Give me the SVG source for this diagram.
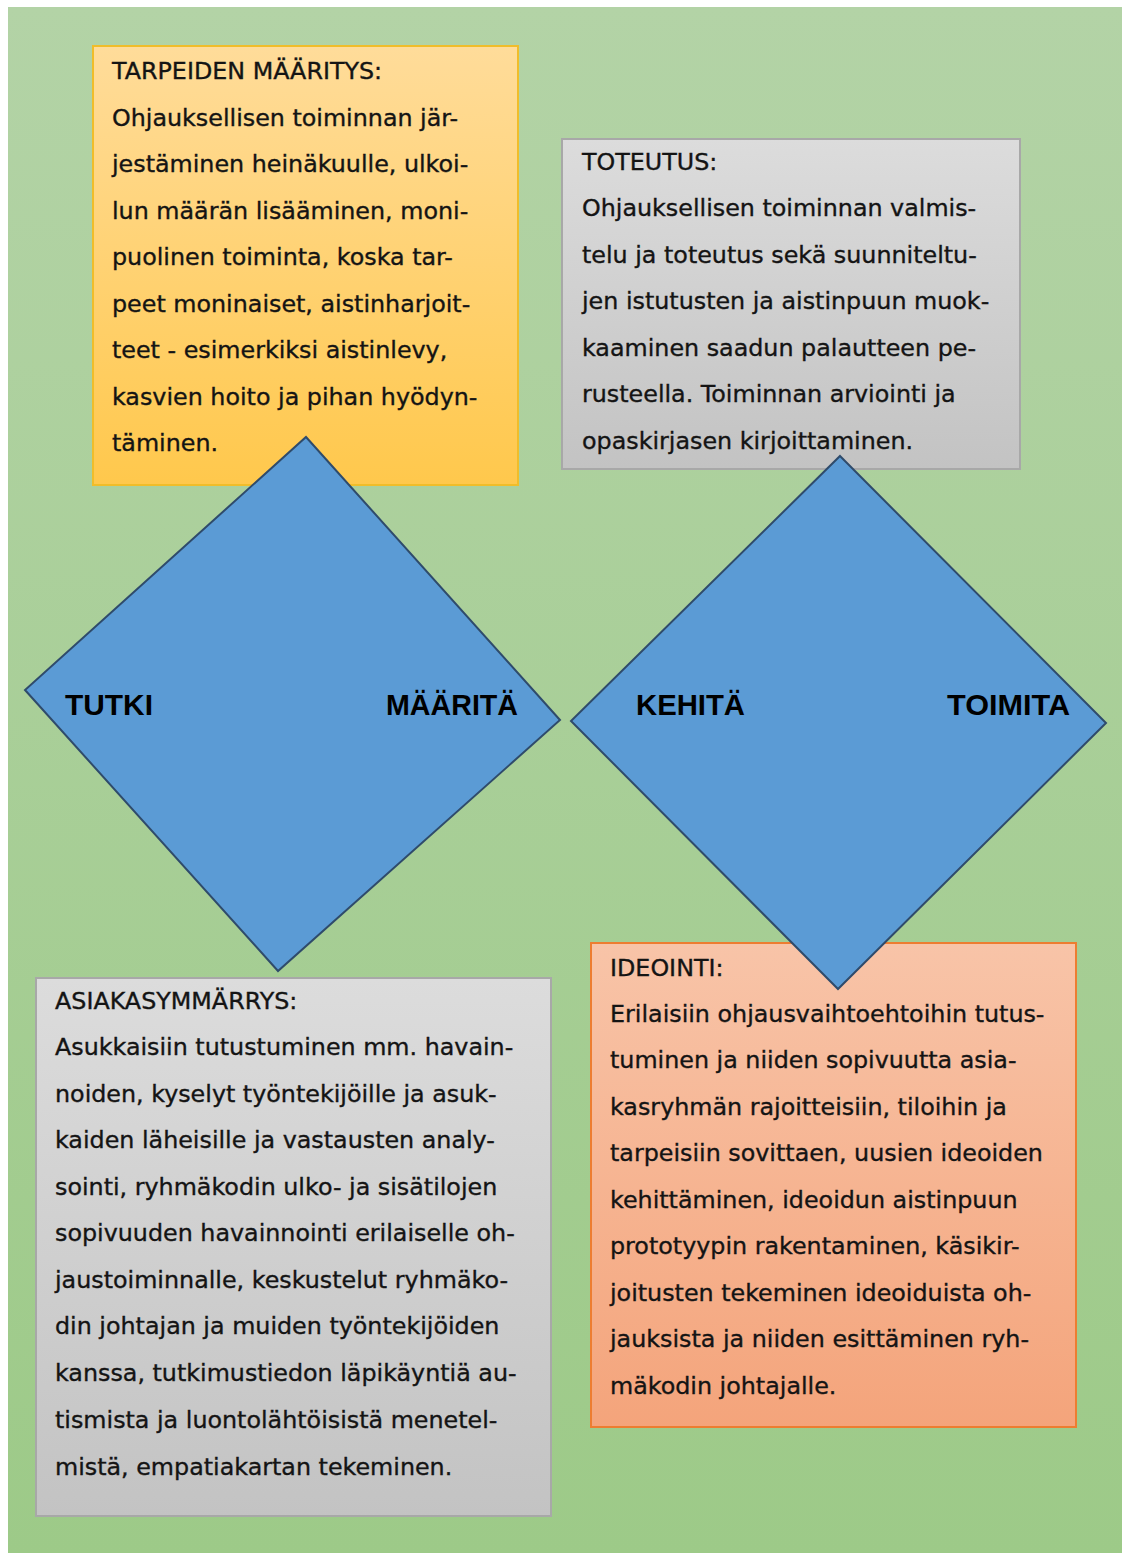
<svg xmlns="http://www.w3.org/2000/svg" width="1122" height="1555" viewBox="0 0 1122 1555">
<defs>
<linearGradient id="gBg" x1="0" y1="0" x2="0" y2="1"><stop offset="0" stop-color="#b3d3a6"/><stop offset="1" stop-color="#9dca88"/></linearGradient>
<linearGradient id="gOr" x1="0" y1="0" x2="0" y2="1"><stop offset="0" stop-color="#ffdc9a"/><stop offset="1" stop-color="#ffc84c"/></linearGradient>
<linearGradient id="gGr" x1="0" y1="0" x2="0" y2="1"><stop offset="0" stop-color="#dcdcdc"/><stop offset="1" stop-color="#c3c3c3"/></linearGradient>
<linearGradient id="gSa" x1="0" y1="0" x2="0" y2="1"><stop offset="0" stop-color="#f8c4a8"/><stop offset="1" stop-color="#f4a47b"/></linearGradient>
<style>
.body{font-family:"DejaVu Sans","Liberation Sans",sans-serif;font-size:23.8px;fill:#141414;stroke:#141414;stroke-width:0.35}
.big{font-family:"Liberation Sans",Arial,sans-serif;font-size:30px;font-weight:bold;fill:#000}
.dia{fill:#5b9bd5;stroke:#2f4b6b;stroke-width:2;stroke-linejoin:miter}
.bOr{fill:url(#gOr);stroke:#f0bd2a;stroke-width:2}
.bGr{fill:url(#gGr);stroke:#a8a8a8;stroke-width:2}
.bSa{fill:url(#gSa);stroke:#ed7d31;stroke-width:2}
</style>
</defs>
<rect x="0" y="0" width="1122" height="1555" fill="#ffffff"/>
<rect x="8" y="7" width="1114" height="1546" fill="url(#gBg)"/>

<g id="box-tarpeiden">
<rect class="bOr" x="93" y="46" width="425" height="439"/>
<text class="body" x="112" y="79">TARPEIDEN MÄÄRITYS:</text>
<text class="body" x="112" y="126">Ohjauksellisen toiminnan jär-</text>
<text class="body" x="112" y="172">jestäminen heinäkuulle, ulkoi-</text>
<text class="body" x="112" y="219">lun määrän lisääminen, moni-</text>
<text class="body" x="112" y="265">puolinen toiminta, koska tar-</text>
<text class="body" x="112" y="312">peet moninaiset, aistinharjoit-</text>
<text class="body" x="112" y="358">teet - esimerkiksi aistinlevy,</text>
<text class="body" x="112" y="405">kasvien hoito ja pihan hyödyn-</text>
<text class="body" x="112" y="451">täminen.</text>
</g>

<g id="box-toteutus">
<rect class="bGr" x="562" y="139" width="458" height="330"/>
<text class="body" x="582" y="170">TOTEUTUS:</text>
<text class="body" x="582" y="216">Ohjauksellisen toiminnan valmis-</text>
<text class="body" x="582" y="263">telu ja toteutus sekä suunniteltu-</text>
<text class="body" x="582" y="309">jen istutusten ja aistinpuun muok-</text>
<text class="body" x="582" y="356">kaaminen saadun palautteen pe-</text>
<text class="body" x="582" y="402">rusteella. Toiminnan arviointi ja</text>
<text class="body" x="582" y="449">opaskirjasen kirjoittaminen.</text>
</g>

<g id="box-asiakasymmarrys">
<rect class="bGr" x="36" y="978" width="515" height="538"/>
<text class="body" x="55" y="1009">ASIAKASYMMÄRRYS:</text>
<text class="body" x="55" y="1055">Asukkaisiin tutustuminen mm. havain-</text>
<text class="body" x="55" y="1102">noiden, kyselyt työntekijöille ja asuk-</text>
<text class="body" x="55" y="1148">kaiden läheisille ja vastausten analy-</text>
<text class="body" x="55" y="1195">sointi, ryhmäkodin ulko- ja sisätilojen</text>
<text class="body" x="55" y="1241">sopivuuden havainnointi erilaiselle oh-</text>
<text class="body" x="55" y="1288">jaustoiminnalle, keskustelut ryhmäko-</text>
<text class="body" x="55" y="1334">din johtajan ja muiden työntekijöiden</text>
<text class="body" x="55" y="1381">kanssa, tutkimustiedon läpikäyntiä au-</text>
<text class="body" x="55" y="1428">tismista ja luontolähtöisistä menetel-</text>
<text class="body" x="55" y="1475">mistä, empatiakartan tekeminen.</text>
</g>

<g id="box-ideointi">
<rect class="bSa" x="591" y="943" width="485" height="484"/>
<text class="body" x="610" y="976">IDEOINTI:</text>
<text class="body" x="610" y="1022">Erilaisiin ohjausvaihtoehtoihin tutus-</text>
<text class="body" x="610" y="1068">tuminen ja niiden sopivuutta asia-</text>
<text class="body" x="610" y="1115">kasryhmän rajoitteisiin, tiloihin ja</text>
<text class="body" x="610" y="1161">tarpeisiin sovittaen, uusien ideoiden</text>
<text class="body" x="610" y="1208">kehittäminen, ideoidun aistinpuun</text>
<text class="body" x="610" y="1254">prototyypin rakentaminen, käsikir-</text>
<text class="body" x="610" y="1301">joitusten tekeminen ideoiduista oh-</text>
<text class="body" x="610" y="1347">jauksista ja niiden esittäminen ryh-</text>
<text class="body" x="610" y="1394">mäkodin johtajalle.</text>
</g>

<g id="diamond-left">
<polygon class="dia" points="306,437 560,720 278,971 25,690"/>
<text class="big" x="65" y="715" textLength="88" lengthAdjust="spacingAndGlyphs">TUTKI</text>
<text class="big" x="386" y="715" textLength="132" lengthAdjust="spacingAndGlyphs">MÄÄRITÄ</text>
</g>

<g id="diamond-right">
<polygon class="dia" points="840,456 1106,723 838,989 571,721"/>
<text class="big" x="636" y="715" textLength="109" lengthAdjust="spacingAndGlyphs">KEHITÄ</text>
<text class="big" x="947" y="715" textLength="123" lengthAdjust="spacingAndGlyphs">TOIMITA</text>
</g>

<g id="connectors"></g>
</svg>
